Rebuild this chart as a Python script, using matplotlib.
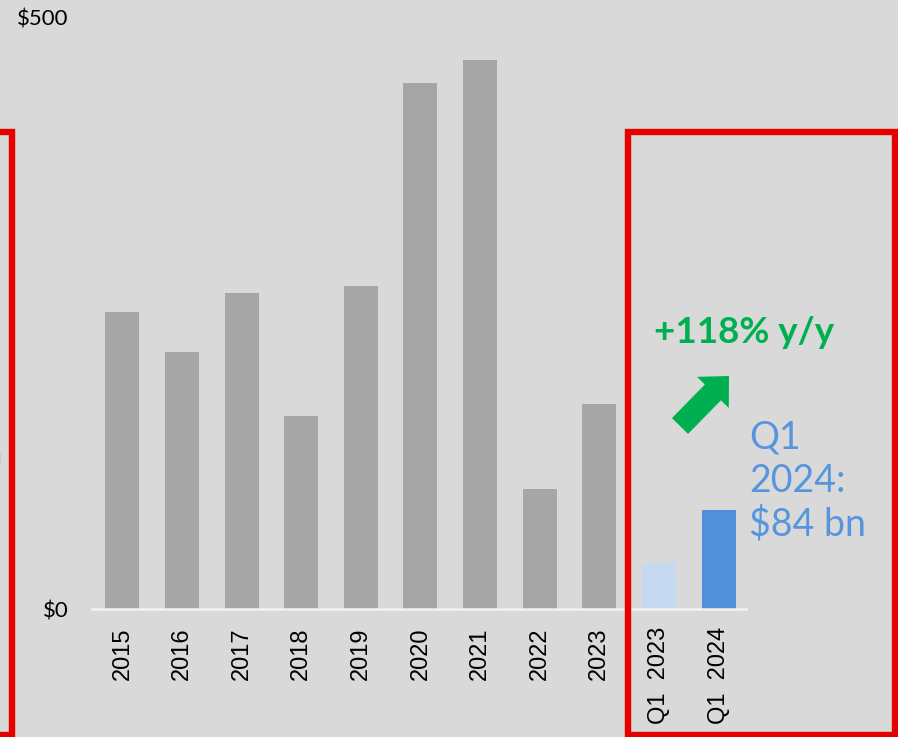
import matplotlib.pyplot as plt
from matplotlib.patches import Rectangle, FancyArrow

# Data (US$ bn)
years = ["2015", "2016", "2017", "2018", "2019", "2020", "2021", "2022", "2023"]
year_values = [251, 217, 267, 163, 273, 444, 464, 101, 173]
quarters = ["Q1  2023", "Q1  2024"]
quarter_values = [38.5, 84]

labels = years + quarters
values = year_values + quarter_values
colors = ["#a6a6a6"] * len(years) + ["#c5daf1", "#4f90d8"]

W, H = 898, 737
fig = plt.figure(figsize=(W / 100, H / 100), dpi=100)
fig.patch.set_facecolor("#d9d9d9")

# main bar axes, placed in pixel terms
left, right, top, bottom = 92, 746, 17, 609
ax = fig.add_axes([left / W, (H - bottom) / H, (right - left) / W, (bottom - top) / H])
ax.set_facecolor("none")

x = range(len(labels))
ax.bar(x, values, width=0.57, color=colors, zorder=2)
ax.set_xlim(-0.51, len(labels) - 0.54)
ax.set_ylim(0, 500)

ax.set_xticks(list(x))
ax.set_xticklabels(labels, rotation=90, fontsize=17, family="Liberation Sans", va="top")
ax.set_yticks([0, 500])
ax.set_yticklabels(["$0", "$500"], fontsize=16, family="Lato")
ax.tick_params(axis="x", length=0, pad=13)
ax.tick_params(axis="y", length=0, pad=17)
for s in ["top", "right", "left"]:
    ax.spines[s].set_visible(False)
ax.spines["bottom"].set_color("#f2f2f2")
ax.spines["bottom"].set_linewidth(1.8)

# overlay in pixel coordinates for the callouts
ov = fig.add_axes([0, 0, 1, 1], zorder=5)
ov.set_xlim(0, W)
ov.set_ylim(H, 0)
ov.axis("off")
ov.patch.set_alpha(0)

red = "#e60000"
ov.add_patch(Rectangle((627.5, 132), 267, 603, fill=False, ec=red, lw=4.6))
ov.add_patch(Rectangle((-300, 132), 312, 603, fill=False, ec=red, lw=4.6))

ov.add_patch(FancyArrow(680, 426, 49, -50, width=22.6, head_width=44.5, head_length=23,
                        length_includes_head=True, color="#00b050", lw=0))

ov.text(654, 343, "+118% y/y", color="#00b050", fontsize=26.5, fontweight="bold",
        family="Lato", ha="left", va="baseline")
ov.text(749, 419, "Q1\n2024:\n$84 bn", color="#5596dd", fontsize=27, family="Lato",
        ha="left", va="top", linespacing=1.26)

# clipped text fragment at the left edge
ov.text(3, 465, "bn", color="#7fa894", fontsize=24, family="Lato", ha="right", va="baseline")

fig.savefig("out.png", dpi=100, facecolor=fig.get_facecolor())
